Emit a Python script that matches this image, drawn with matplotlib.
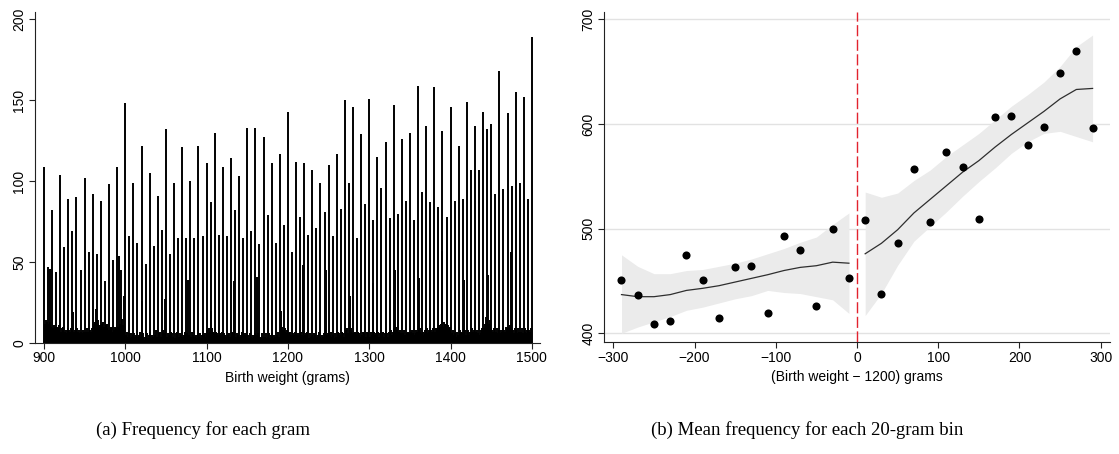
import numpy as np
import matplotlib
matplotlib.use('Agg')
import matplotlib.pyplot as plt

plt.rcParams['font.family'] = ['Liberation Sans', 'DejaVu Sans']

# ---- panel (a): births at each gram, 900..1500 ----
# background counts, one row per 50 grams (heaped grams are overwritten below)
base_rows = [
    [13, 12, 14, 11, 13, 12, 12, 11, 13, 10,
     12, 9, 11, 8, 10, 11, 10, 9, 11, 8,
     9, 7, 9, 8, 10, 8, 7, 8, 6, 9,
     8, 8, 7, 9, 8, 7, 8, 7, 8, 6,
     8, 9, 7, 8, 6, 7, 7, 6, 8, 7],
    [8, 6, 7, 9, 7, 8, 6, 8, 7, 9,
     10, 9, 12, 13, 14, 11, 14, 12, 10, 11,
     9, 12, 9, 13, 10, 8, 11, 9, 12, 8,
     9, 8, 10, 9, 7, 9, 8, 10, 7, 9,
     11, 10, 14, 9, 12, 10, 15, 11, 9, 12],
    [6, 5, 7, 4, 6, 5, 3, 6, 4, 5,
     5, 6, 4, 5, 3, 6, 4, 5, 7, 4,
     5, 3, 6, 4, 2, 5, 4, 6, 3, 5,
     4, 7, 3, 5, 4, 6, 3, 5, 8, 4,
     5, 6, 3, 7, 4, 5, 8, 4, 6, 3],
    [5, 4, 6, 3, 5, 4, 7, 3, 6, 4,
     5, 3, 6, 4, 7, 5, 4, 6, 3, 5,
     6, 4, 5, 7, 3, 5, 6, 4, 5, 3,
     6, 4, 7, 5, 3, 6, 4, 5, 3, 6,
     5, 4, 6, 3, 5, 7, 4, 5, 6, 4],
    [7, 8, 6, 9, 7, 8, 6, 9, 7, 6,
     5, 7, 4, 6, 5, 3, 6, 4, 5, 7,
     4, 6, 3, 5, 4, 6, 5, 3, 6, 4,
     5, 7, 4, 6, 3, 5, 4, 6, 5, 3,
     6, 4, 5, 7, 4, 3, 6, 5, 4, 6],
    [4, 5, 3, 6, 4, 5, 3, 5, 4, 6,
     3, 5, 4, 6, 3, 5, 4, 3, 6, 4,
     5, 3, 4, 6, 3, 5, 4, 6, 3, 5,
     4, 6, 3, 5, 4, 6, 5, 3, 7, 4,
     8, 9, 14, 10, 8, 11, 7, 9, 6, 8],
    [5, 6, 4, 7, 5, 4, 6, 3, 5, 7,
     4, 6, 5, 3, 6, 4, 7, 5, 4, 6,
     3, 5, 6, 4, 7, 5, 3, 6, 4, 5,
     7, 4, 6, 5, 3, 6, 4, 5, 7, 4,
     6, 3, 5, 4, 6, 5, 7, 4, 5, 6],
    [4, 6, 5, 7, 4, 6, 5, 3, 6, 4,
     5, 7, 4, 6, 5, 4, 7, 5, 6, 4,
     6, 8, 7, 9, 6, 8, 10, 7, 9, 6,
     8, 6, 7, 5, 6, 4, 7, 5, 6, 4,
     6, 5, 7, 4, 6, 5, 4, 7, 5, 6],
    [6, 4, 7, 5, 6, 4, 7, 5, 6, 8,
     5, 7, 4, 6, 8, 5, 6, 7, 4, 6,
     5, 7, 6, 4, 7, 5, 6, 8, 5, 7,
     8, 9, 7, 10, 8, 6, 7, 5, 8, 6,
     7, 5, 6, 8, 5, 7, 6, 4, 7, 6],
    [6, 7, 5, 8, 6, 7, 5, 8, 6, 7,
     8, 6, 7, 9, 6, 8, 7, 5, 8, 6,
     7, 9, 6, 8, 7, 6, 8, 7, 9, 6,
     8, 7, 9, 8, 10, 9, 11, 10, 12, 9,
     11, 10, 13, 12, 11, 10, 12, 11, 9, 10],
    [7, 5, 6, 8, 5, 7, 6, 4, 7, 5,
     6, 8, 5, 7, 6, 4, 7, 6, 8, 5,
     7, 6, 8, 5, 7, 6, 9, 7, 5, 8,
     6, 7, 5, 8, 6, 7, 5, 8, 6, 9,
     10, 9, 12, 11, 16, 13, 18, 12, 14, 11],
    [9, 8, 7, 9, 6, 8, 7, 9, 6, 8,
     7, 6, 8, 7, 9, 6, 8, 7, 10, 9,
     8, 10, 9, 11, 8, 9, 7, 8, 6, 9,
     7, 8, 6, 9, 7, 8, 6, 7, 9, 6,
     8, 7, 9, 6, 8, 7, 6, 8, 7, 9,
     8],
]

# counts at multiples of 5 grams: 900, 905, ..., 1500
heap5_counts = [
    109, 47, 82, 44, 104, 59, 89, 69, 90, 45,
    102, 56, 92, 55, 88, 38, 98, 51, 109, 45,
    148, 66, 99, 62, 122, 49, 105, 60, 91, 70,
    132, 55, 99, 65, 121, 65, 100, 65, 122, 66,
    111, 87, 130, 67, 109, 66, 114, 82, 103, 65,
    133, 69, 133, 61, 127, 79, 111, 62, 117, 73,
    143, 56, 112, 78, 111, 67, 107, 71, 99, 81,
    110, 66, 117, 83, 150, 99, 146, 65, 129, 86,
    151, 76, 115, 96, 124, 77, 147, 80, 126, 88,
    130, 76, 159, 93, 134, 87, 158, 84, 131, 78,
    146, 88, 122, 89, 149, 107, 134, 107, 143, 132,
    135, 92, 168, 95, 142, 97, 155, 99, 152, 89,
    189,
]

# whole-ounce heaps and a few other visible bars
ounce_grams = [907, 936, 964, 992, 999, 1021, 1049, 1077, 1106, 1134, 1162,
               1191, 1219, 1247, 1276, 1304, 1332, 1361, 1389, 1417, 1446, 1474]
ounce_counts = [46, 19, 21, 54, 29, 26, 27, 39, 20, 38, 41,
                20, 48, 45, 29, 37, 45, 40, 57, 39, 42, 56]

# ---- panel (b): 20-gram bin means around the 1200 g cutoff ----
bin_mid = [-290, -270, -250, -230, -210, -190, -170, -150, -130, -110,
           -90, -70, -50, -30, -10,
           10, 30, 50, 70, 90, 110, 130, 150, 170, 190,
           210, 230, 250, 270, 290]
bin_mean = [451, 437, 409, 412, 475, 451, 415, 463, 464, 419,
            493, 480, 426, 500, 453,
            508, 438, 486, 557, 506, 573, 559, 509, 607, 608,
            580, 597, 649, 670, 596]

fit_left = [437, 435, 435, 437, 441, 443, 445.5, 449, 452.5, 456,
            460, 463, 464.6, 468, 467]
ci_lo_left = [400, 406, 411, 416, 422, 425, 429, 433, 436, 441,
              439, 438, 435, 432, 419]
ci_hi_left = [475, 464, 457, 457, 460, 461, 464, 467, 471, 476,
              481, 487, 492, 504, 515]

fit_right = [476, 486, 499, 515, 528, 541, 554, 565, 578, 590,
             601, 612, 624, 633, 634]
ci_lo_right = [417, 438, 465, 488, 502, 516, 531, 545, 558, 572,
               583, 591, 593, 588, 583]
ci_hi_right = [535, 530, 534, 546, 556, 569, 580, 591, 604, 617,
               628, 640, 655, 674, 685]

# assemble per-gram counts
grams = np.arange(900, 1501)
counts = np.concatenate([np.array(r, dtype=float) for r in base_rows])
counts[::5] = heap5_counts
counts[np.array(ounce_grams) - 900] = ounce_counts

fig = plt.figure(figsize=(11.19, 4.54), dpi=100)
ax1 = fig.add_axes([0.0310, 0.2445, 0.4516, 0.7291])
ax2 = fig.add_axes([0.5398, 0.2460, 0.4522, 0.7282])

ax1.vlines(grams, 0, counts, colors='black', linewidth=1.4)
ax1.set_xlim(888.6, 1510)
ax1.set_ylim(0, 204.5)
ax1.set_xticks([900, 1000, 1100, 1200, 1300, 1400, 1500])
ax1.set_yticks([0, 50, 100, 150, 200])
ax1.set_yticklabels(['0', '50', '100', '150', '200'], rotation=90, va='center')
ax1.set_xlabel('Birth weight (grams)', fontsize=10, labelpad=4)

# right panel
n = len(fit_left)
x_left = bin_mid[:n]
x_right = bin_mid[n:]
ax2.fill_between(x_left, ci_lo_left, ci_hi_left, color='#ebebeb', lw=0, zorder=1)
ax2.fill_between(x_right, ci_lo_right, ci_hi_right, color='#ebebeb', lw=0, zorder=1)
ax2.plot(x_left, fit_left, color='#2e2e2e', lw=0.9, zorder=2)
ax2.plot(x_right, fit_right, color='#2e2e2e', lw=0.9, zorder=2)
ax2.scatter(bin_mid, bin_mean, s=34, color='black', zorder=3, linewidths=0)
ax2.axvline(0, color='#e2232e', lw=1.0, ls=(0, (8, 2.5)), zorder=4)
ax2.set_xlim(-311.5, 311.5)
ax2.set_ylim(391.4, 707.3)
ax2.set_xticks([-300, -200, -100, 0, 100, 200, 300])
ax2.set_yticks([400, 500, 600, 700])
ax2.set_yticklabels(['400', '500', '600', '700'], rotation=90, va='center')
ax2.grid(axis='y', color='#e2e2e2', lw=1.0, zorder=0)
ax2.set_axisbelow(True)
ax2.set_xlabel('(Birth weight \u2212 1200) grams', fontsize=10, labelpad=4)

for ax in (ax1, ax2):
    ax.spines['top'].set_visible(False)
    ax.spines['right'].set_visible(False)
    for s in ('left', 'bottom'):
        ax.spines[s].set_linewidth(0.8)
        ax.spines[s].set_color('#222222')
    ax.tick_params(direction='out', length=4, width=0.8, labelsize=10,
                   color='#222222', pad=2)

fig.text(0.181, 0.053, '(a) Frequency for each gram', ha='center', va='center',
         family='Liberation Serif', fontsize=13.5)
fig.text(0.721, 0.053, '(b) Mean frequency for each 20-gram bin', ha='center',
         va='center', family='Liberation Serif', fontsize=13.5)

fig.savefig('out.png', dpi=100)
